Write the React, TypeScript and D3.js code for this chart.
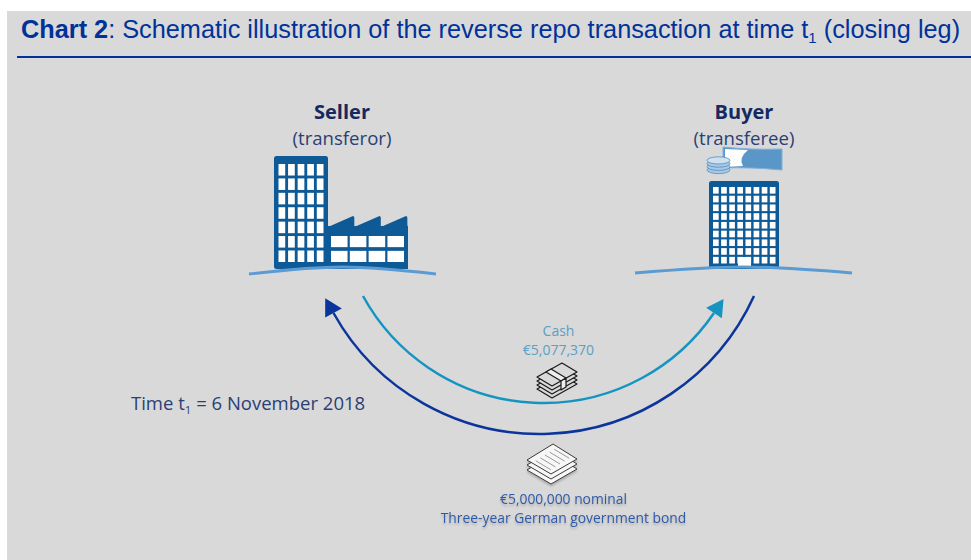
import React from "react";
import * as d3 from "d3";

// text and amounts of the schematic
const titleBold = "Chart 2";
const titleRest = ": Schematic illustration of the reverse repo transaction at time t";
const titleEnd = " (closing leg)";
const parties = ["Seller", "Buyer"];
const roles = ["(transferor)", "(transferee)"];
const cashLabels = ["Cash", "€5,077,370"];
const bondLabels = ["€5,000,000 nominal", "Three-year German government bond"];
const timeLabel = ["Time t", "1", " = 6 November 2018"];

// window grids of the buildings
const sellerTowerCols = d3.range(5);
const sellerTowerRows = d3.range(7);
const factoryCols = d3.range(4);
const factoryRows = d3.range(2);
const buyerCols = d3.range(8);
const buyerRows = d3.range(9);
const factoryTeeth = [0, 1, 2];
const coins = [0, 1, 2, 3];
const noteStack = [3, 2, 1, 0];
const paperStack = [2, 1, 0];
const paperLines = [0, 1, 2, 3, 4];

const BLUE = "#003299";
const NAVY = "#14295f";
const BUILDING = "#0e5a96";
const GROUND = "#5b9bd3";
const CASH = "#1594c2";

// circle through three points, returned as a d3 path
function arcThrough(a: number[], m: number[], b: number[]) {
  const d = 2 * (a[0] * (m[1] - b[1]) + m[0] * (b[1] - a[1]) + b[0] * (a[1] - m[1]));
  const s = (p: number[]) => p[0] * p[0] + p[1] * p[1];
  const cx = (s(a) * (m[1] - b[1]) + s(m) * (b[1] - a[1]) + s(b) * (a[1] - m[1])) / d;
  const cy = (s(a) * (b[0] - m[0]) + s(m) * (a[0] - b[0]) + s(b) * (m[0] - a[0])) / d;
  const r = Math.hypot(a[0] - cx, a[1] - cy);
  const a0 = Math.atan2(a[1] - cy, a[0] - cx);
  const a1 = Math.atan2(b[1] - cy, b[0] - cx);
  const p = d3.path();
  p.arc(cx, cy, r, a0, a1, a[0] < b[0]);
  return { d: p.toString(), cx, cy };
}

function Windows({ cols, rows, x0, x1, y0, y1, padX, padY }: any) {
  const x = d3.scaleBand<number>().domain(cols).range([x0, x1]).paddingInner(padX);
  const y = d3.scaleBand<number>().domain(rows).range([y0, y1]).paddingInner(padY);
  return (
    <g fill="#fff">
      {rows.map((r: number) =>
        cols.map((c: number) => (
          <rect key={r + "-" + c} x={x(c)} y={y(r)} width={x.bandwidth()} height={y.bandwidth()} />
        ))
      )}
    </g>
  );
}

function Ground({ x0, x1, yEnd, yMid }: any) {
  const line = d3.line().curve(d3.curveNatural);
  return (
    <path
      d={line([[x0, yEnd], [(x0 + x1) / 2, yMid], [x1, yEnd]]) as string}
      fill="none"
      stroke={GROUND}
      strokeWidth={3}
    />
  );
}

function Arrow({ from, mid, to, color, width }: any) {
  const arc = arcThrough(from, mid, to);
  // head points along the tangent at the end of the arc
  const rad = Math.atan2(to[1] - arc.cy, to[0] - arc.cx);
  const dir = from[0] < to[0] ? -1 : 1;
  const deg = ((rad + (dir * Math.PI) / 2) * 180) / Math.PI;
  return (
    <g>
      <path d={arc.d} fill="none" stroke={color} strokeWidth={width} />
      <path d="M0,-9.5 L17,0 L0,9.5 Z" fill={color} transform={`translate(${to[0]},${to[1]}) rotate(${deg})`} />
    </g>
  );
}

export default function App() {
  const sans = "'Open Sans', 'Noto Sans', sans-serif";

  const sawTop = d3.path();
  sawTop.moveTo(328, 269);
  sawTop.lineTo(328, 227);
  factoryTeeth.forEach((i) => {
    const left = 328 + i * 26.5;
    sawTop.lineTo(left + 25, 216);
    sawTop.lineTo(left + 26.3, 217);
    if (i < 2) sawTop.lineTo(left + 26.3, 227);
  });
  sawTop.lineTo(408, 269);
  sawTop.closePath();

  // top sheet corners of the paper stack
  const pL = [527, 460];
  const pT = [553, 444];
  const pR = [577, 459];
  const pB = [551, 474];
  const along = d3.scaleLinear().domain([-0.8, 4.8]).range([0, 1]);

  return (
    <svg
      width={971}
      height={560}
      style={{ position: "absolute", left: 0, top: 0, background: "#fff" }}
    >
      <defs>
        <filter id="soft" x="-5%" y="-20%" width="110%" height="160%">
          <feDropShadow dx={0} dy={2} stdDeviation={0.8} floodColor="#000" floodOpacity={0.22} />
        </filter>
      </defs>
      <rect x={7} y={11} width={964} height={549} fill="#d9d9d9" />
      <text x={21} y={38} fontFamily="'Liberation Sans', Arial, sans-serif" fontSize={25.3} fill={BLUE}>
        <tspan fontWeight="bold">{titleBold}</tspan>
        <tspan>{titleRest}</tspan>
        <tspan fontSize={15} dy={5}>1</tspan>
        <tspan dy={-5}>{titleEnd}</tspan>
      </text>
      <rect x={17} y={56} width={954} height={2} fill={BLUE} />

      {/* seller */}
      <g textAnchor="middle" fontFamily={sans} fill={NAVY}>
        <text x={342} y={119} fontSize={20} fontWeight="bold">{parties[0]}</text>
        <text x={342} y={145} fontSize={18.6} fill="#2a3f75">{roles[0]}</text>
        <text x={744} y={119} fontSize={20} fontWeight="bold">{parties[1]}</text>
        <text x={744} y={145} fontSize={18.6} fill="#2a3f75">{roles[1]}</text>
      </g>
      <rect x={274} y={156} width={54} height={113} rx={2.5} fill={BUILDING} />
      <Windows cols={sellerTowerCols} rows={sellerTowerRows} x0={278.5} x1={323.5} y0={164} y1={262} padX={0.3} padY={0.2} />
      <path d={sawTop.toString()} fill={BUILDING} />
      <rect x={328} y={226} width={80} height={43} fill={BUILDING} />
      <Windows cols={factoryCols} rows={factoryRows} x0={331} x1={404} y0={236} y1={262} padX={0.12} padY={0.25} />
      <Ground x0={249} x1={436} yEnd={274} yMid={267} />

      {/* buyer */}
      <rect x={709} y={181} width={70} height={88} rx={2.5} fill={BUILDING} />
      <Windows cols={buyerCols} rows={buyerRows} x0={713} x1={775.5} y0={187} y1={263.5} padX={0.3} padY={0.24} />
      <rect x={738} y={257} width={13} height={11} fill="#fff" />
      <Ground x0={635} x1={852} yEnd={273} yMid={267} />

      {/* banknote and coins above the buyer */}
      <path d="M723,147 Q750,150 782,149 L782,170 Q750,167 723,168 Z" fill="#5b96c9" stroke="#7fb0d8" strokeWidth={1} />
      <path d="M725,149 L748,150 Q738,158 743,166 L725,167 Z" fill="#fff" />
      {coins.map((i) => (
        <ellipse
          key={i}
          cx={718.5}
          cy={170 - i * 3.2}
          rx={11.5}
          ry={3.6}
          fill={i === 3 ? "#cfe0ef" : "#a9c8e4"}
          stroke="#4f8fc6"
          strokeWidth={0.8}
        />
      ))}

      {/* flows */}
      <Arrow from={[363, 296]} mid={[543, 403]} to={[714, 313]} color={CASH} width={2.5} />
      <Arrow from={[754, 296]} mid={[540, 434]} to={[333.5, 313]} color="#0b359c" width={2.5} />

      {/* cash label and notes */}
      <g textAnchor="middle" fontFamily={sans} fontSize={14} fill="#5a9fc6">
        <text x={558.5} y={336}>{cashLabels[0]}</text>
        <text x={558.5} y={355}>{cashLabels[1]}</text>
      </g>
      <g fill="#d9d9d9" stroke="#1a1a1a" strokeWidth={1.2} strokeLinejoin="round">
        {noteStack.map((i) => (
          <path
            key={i}
            d={`M537,${377 + i * 4} L562,${363 + i * 4} L577,${372 + i * 4} L552,${386 + i * 4} Z`}
          />
        ))}
        <path d="M546,372 L551,369 L566,378 L561,381 Z" fill="#eeeeee" />
        <path d="M561,381 L566,378 L566,387 L561,390 Z" fill="#eeeeee" />
      </g>

      {/* bond label and papers */}
      <g fill="#f7f7f7" stroke="#3a3a3a" strokeWidth={1} strokeLinejoin="round" filter="url(#soft)">
        {paperStack.map((i) => (
          <path
            key={i}
            d={`M${pL[0]},${pL[1] + i * 5} L${pT[0]},${pT[1] + i * 5} L${pR[0]},${pR[1] + i * 5} L${pB[0]},${pB[1] + i * 5} Z`}
          />
        ))}
      </g>
      <g stroke="#8f8f8f" strokeWidth={0.9}>
        {paperLines.map((i) => {
          const t = along(i);
          const sx = pL[0] + (pT[0] - pL[0]) * t;
          const sy = pL[1] + (pT[1] - pL[1]) * t;
          return <line key={i} x1={sx + 5} y1={sy + 3} x2={sx + 20} y2={sy + 12} />;
        })}
      </g>
      <g textAnchor="middle" fontFamily={sans} fontSize={13.85} fill="#2f5aa8" filter="url(#soft)">
        <text x={563.5} y={504}>{bondLabels[0]}</text>
        <text x={563.5} y={523}>{bondLabels[1]}</text>
      </g>

      <text x={131} y={410} fontFamily={sans} fontSize={18.5} fill="#2a3f75">
        {timeLabel[0]}
        <tspan fontSize={11.5} dy={4}>{timeLabel[1]}</tspan>
        <tspan dy={-4}>{timeLabel[2]}</tspan>
      </text>
    </svg>
  );
}
